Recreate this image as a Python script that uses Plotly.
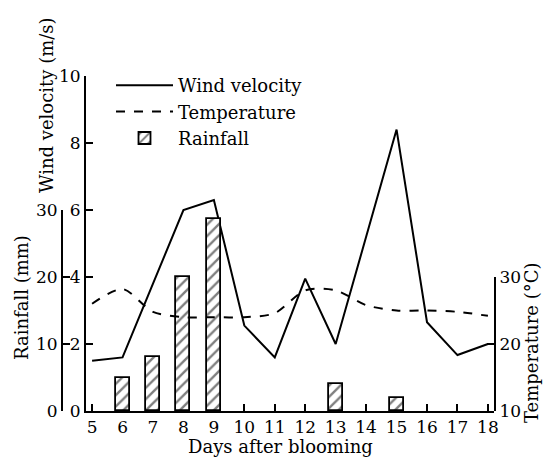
import plotly.graph_objects as go

days = [5, 6, 7, 8, 9, 10, 11, 12, 13, 14, 15, 16, 17, 18]
wind = [1.5, 1.6, 3.8, 6.0, 6.3, 2.55, 1.6, 3.95, 2.0, 5.2, 8.4, 2.65, 1.67, 2.0]
temp = [26.0, 28.2, 24.8, 24.0, 24.0, 24.0, 24.6, 28.0, 28.0, 25.8, 25.0, 25.0, 24.8, 24.2]
rain_days = [6, 7, 8, 9, 13, 15]
rain = [5.0, 8.0, 20.0, 28.7, 4.0, 2.0]

W, H = 544, 459
L, R, T, B = 40, 50, 76, 48
PW = W - L - R
PH = H - T - B

def px(x):
    return (x - L) / PW

def py(y):
    return (411 - y) / PH

FONT = "DejaVu Serif"
fs = 17

fig = go.Figure()
fig.add_trace(go.Bar(
    x=rain_days, y=rain, yaxis="y2", name="Rainfall", width=0.46, legendrank=3,
    marker=dict(color="white", line=dict(color="black", width=1.8),
                pattern=dict(shape="/", fgcolor="black", bgcolor="white", size=8, solidity=0.3)),
))
fig.add_trace(go.Scatter(
    x=days, y=wind, mode="lines", name="Wind velocity", legendrank=1,
    line=dict(color="black", width=2),
))
fig.add_trace(go.Scatter(
    x=days, y=temp, mode="lines", name="Temperature", yaxis="y3", legendrank=2,
    line=dict(color="black", width=2, dash="dash", shape="spline", smoothing=0.8),
))

axis_common = dict(showline=True, linecolor="black", linewidth=2, ticks="inside",
                   tickcolor="black", tickwidth=2, ticklen=7, showgrid=False, zeroline=False,
                   tickfont=dict(family=FONT, size=fs, color="black"))

fig.update_layout(
    width=W, height=H,
    margin=dict(l=L, r=R, t=T, b=B),
    paper_bgcolor="white", plot_bgcolor="rgba(0,0,0,0)",
    showlegend=True,
    legend=dict(x=px(111), y=py(67), xanchor="left", yanchor="top",
                font=dict(family=FONT, size=18, color="black"),
                bgcolor="rgba(0,0,0,0)", itemwidth=57, tracegroupgap=0),
    xaxis=dict(domain=[px(86), 1], range=[4.8, 18.2], tickmode="array", tickvals=days,
               ticktext=[str(d) for d in days], **axis_common),
    yaxis=dict(domain=[0, 1], range=[0, 10], tickvals=[0, 2, 4, 6, 8, 10], anchor="x", **axis_common),
    yaxis2=dict(domain=[0, py(210)], range=[0, 30], tickvals=[0, 10, 20, 30],
                anchor="free", position=px(62), **axis_common),
    yaxis3=dict(domain=[0, py(277)], range=[10, 30], tickvals=[10, 20, 30],
                anchor="x", side="right", **axis_common),
    bargap=0,
)

tf = dict(family=FONT, size=18, color="black")
fig.add_annotation(text="Wind velocity (m/s)", xref="paper", yref="paper", x=px(46), y=py(105),
                   textangle=-90, showarrow=False, font=tf, xanchor="center", yanchor="middle")
fig.add_annotation(text="Rainfall (mm)", xref="paper", yref="paper", x=px(21), y=py(298),
                   textangle=-90, showarrow=False, font=tf, xanchor="center", yanchor="middle")
fig.add_annotation(text="Temperature (°C)", xref="paper", yref="paper", x=px(531), y=py(343),
                   textangle=-90, showarrow=False, font=tf, xanchor="center", yanchor="middle")
fig.add_annotation(text="Days after blooming", xref="paper", yref="paper", x=px(280), y=py(446),
                   showarrow=False, font=tf, xanchor="center", yanchor="middle")

fig.write_html("out.html")
